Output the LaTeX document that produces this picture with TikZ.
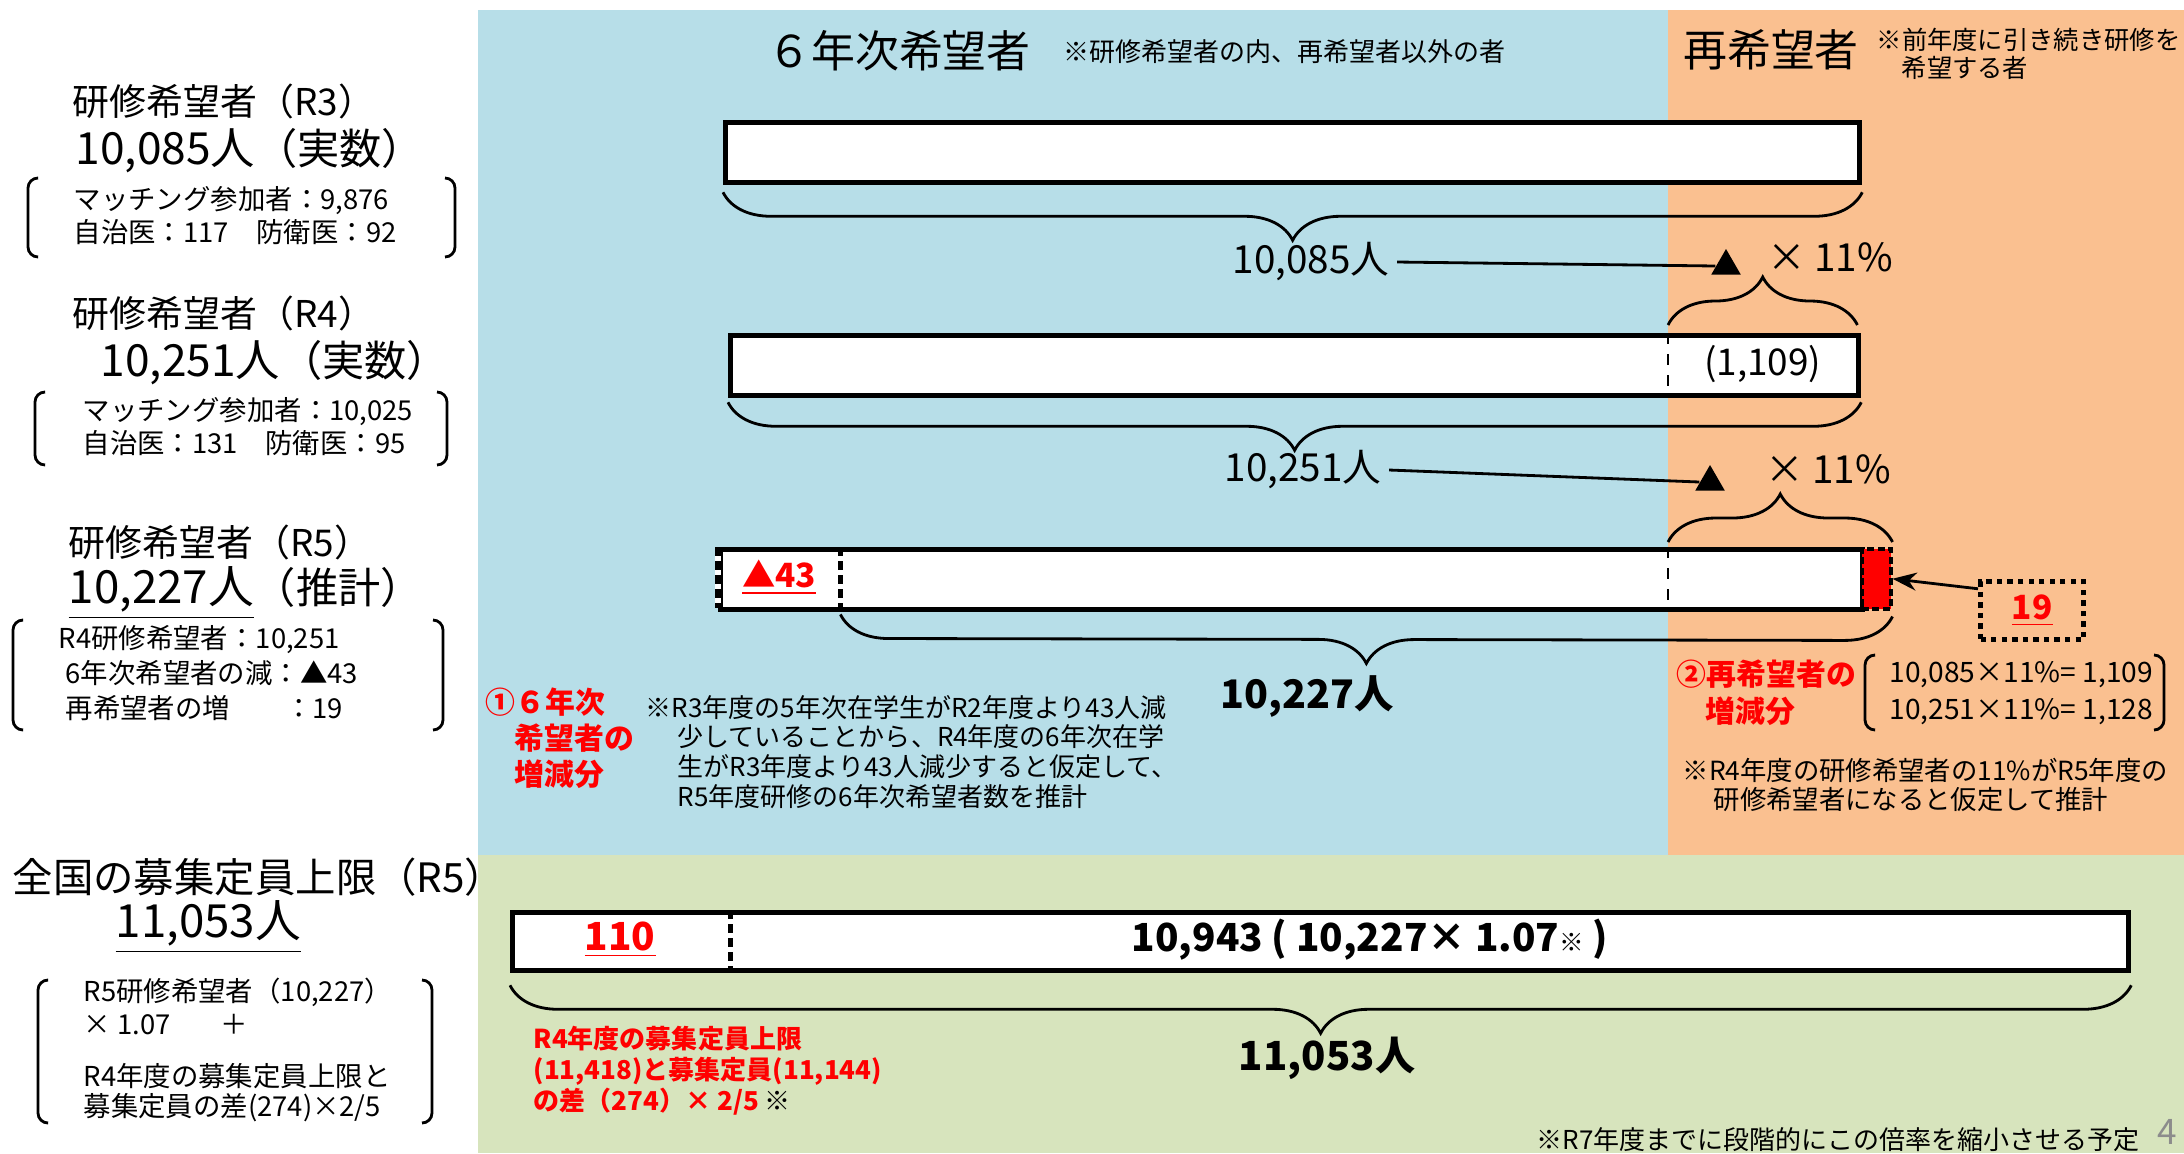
\documentclass[tikz,border=0pt]{standalone}
\usepackage{fontspec}
\setmainfont{Noto Sans CJK JP}
\usetikzlibrary{positioning,shapes.geometric,decorations.pathreplacing,arrows.meta}

\definecolor{sixbg}{HTML}{B7DEE8}
\definecolor{rebg}{HTML}{FAC090}
\definecolor{capbg}{HTML}{D7E4BD}
\definecolor{memo}{HTML}{FF0000}
\definecolor{pagegray}{HTML}{8C8C8C}

\newcommand\fsz[2]{\fontsize{#1}{#2}\selectfont}
% round brackets round a block of text: x-left, x-right, y-top, y-bottom
\newcommand\parenpair[4]{%
  \draw[paren] (#1+10,#3) -- (#1,#3) -- (#1,#4) -- (#1+10,#4);
  \draw[paren] (#2-10,#3) -- (#2,#3) -- (#2,#4) -- (#2-10,#4);}

\begin{document}
\begin{tikzpicture}[x=0.1mm, y=-0.1mm, inner sep=0pt,
    bar/.style={draw, line width=1.5pt, fill=white, minimum height=6mm, anchor=north west},
    slot/.style={minimum height=6mm, anchor=north west},
    gapline/.style={line width=1.5pt, dash pattern=on 2.5pt off 1.5pt},
    curly down/.style={decorate, decoration={brace, mirror, amplitude=4.8mm}, line width=0.8pt},
    curly up/.style={decorate, decoration={brace, amplitude=4.8mm}, line width=0.8pt},
    paren/.style={line width=0.8pt, rounded corners=1mm},
    uptri/.style={regular polygon, regular polygon sides=3, fill=black, minimum size=3.4mm},
    mid/.style={font=\fsz{11}{13}}]
\useasboundingbox (0,0) rectangle (2184,1153);

% backgrounds
\fill[sixbg] (478,10) rectangle (1668,855);
\fill[rebg] (1668,10) rectangle (2184,855);
\fill[capbg] (478,855) rectangle (2184,1153);

% headers
\node[font=\fsz{12.5}{14}] (hdr6) at (899,51) {６年次希望者};
\node[anchor=west, font=\fsz{7.4}{9}] (hdr6n) at (1063,52) {※研修希望者の内、再希望者以外の者};
\node[font=\fsz{12.5}{14}] (hdrre) at (1771,50) {再希望者};
\node[anchor=west, align=left, font=\fsz{7.2}{8}] (hdren) at (1876,54) {※前年度に引き続き研修を\\\hspace*{2.5mm}希望する者};

% left column
\node[anchor=west, font=\fsz{10.5}{12}] (ttl3) at (72,101) {研修希望者（R3）};
\node[anchor=west, font=\fsz{12.6}{14}] (num3) at (75,151) {10,085人{\fsz{12}{14}（実数）}};
\node[anchor=west, align=left, font=\fsz{7.8}{9.4}] (sub3) at (73,216) {マッチング参加者：9,876\\自治医：117　防衛医：92};
\parenpair{28}{455}{178}{257}

\node[anchor=west, font=\fsz{10.5}{12}] (ttl4) at (72,313) {研修希望者（R4）};
\node[anchor=west, font=\fsz{12.6}{14}] (num4) at (100,363) {10,251人{\fsz{12}{14}（実数）}};
\node[anchor=west, align=left, font=\fsz{7.8}{9.4}] (sub4) at (82,426.5) {マッチング参加者：10,025\\自治医：131　防衛医：95};
\parenpair{35}{447}{392}{465}

\node[anchor=west, font=\fsz{10.5}{12}] (ttl5) at (68,542) {研修希望者（R5）};
\node[anchor=west, font=\fsz{13}{15}] (num5) at (68,593) {\underline{10,227人}{\fsz{12}{14}（推計）}};
\node[anchor=west, align=left, font=\fsz{7.8}{10}] (sub5) at (58,673) {R4研修希望者：10,251\\\hspace*{0.7mm}6年次希望者の減：▲43\\\hspace*{0.7mm}再希望者の増　　：19};
\parenpair{13}{443}{620}{730}

\node[anchor=west, font=\fsz{11.5}{13}] (capt) at (12,877) {全国の募集定員上限（R5）};
\node[anchor=west, font=\fsz{13}{15}] (capn) at (115,927) {\underline{11,053人}};
\node[anchor=west, align=left, font=\fsz{7.8}{9.4}] (capa) at (83,1006.5) {R5研修希望者（10,227）\\× 1.07\hspace{5mm}＋};
\node[anchor=west, align=left, font=\fsz{7.8}{8.5}] (capb) at (83,1093) {R4年度の募集定員上限と\\募集定員の差(274)×2/5};
\parenpair{38}{432}{980}{1123}

% R3 bar
\node[bar, minimum width=113.4mm] (bar1) at (723,120) {};
\draw[curly down] ([yshift=-0.7mm]bar1.south west) -- ([yshift=-0.7mm]bar1.south east);
\node[mid] (sum085) at (1311,262) {10,085人};
\node[uptri] (tri1) at (1726,266) {};
\draw[line width=0.8pt] ([xshift=0.7mm]sum085.east) -- (tri1.west);
\node[mid] (pct1) at (1830,257) {× 11\%};

% R4 bar
\node[bar, minimum width=112.8mm] (bar2) at (728,333) {};
\node[slot, minimum width=18.8mm, font=\fsz{10.5}{12}] (rep2) at (1668,333) {(1,109)};
\draw[thin, dashed] (rep2.north west) -- (rep2.south west);
\draw[curly up] ([yshift=0.8mm]rep2.north west) -- ([yshift=0.8mm]rep2.north east);
\draw[curly down] ([yshift=-0.4mm]bar2.south west) -- ([yshift=-0.4mm]bar2.south east);
\node[mid] (sum251) at (1303,470) {10,251人};
\node[uptri] (tri2) at (1710,482) {};
\draw[line width=0.8pt] ([xshift=0.7mm]sum251.east) -- (tri2.west);
\node[mid] (pct2) at (1828,469) {× 11\%};

% R5 bar
\node[bar, minimum width=114.2mm] (bar3) at (718,547) {};
\node[slot, minimum width=12.1mm, font=\fsz{9.5}{11}\bfseries, text=memo] (dec43) at (718,547) {\underline{▲43}};
\draw[line width=1.6pt, white] (dec43.north west) -- (dec43.south west);
\draw[gapline] (dec43.north west) -- (dec43.south west);
\draw[gapline] (dec43.north east) -- (dec43.south east);
\node[slot, minimum width=19.2mm] (rep3) at (1668,547) {};
\draw[thin, dashed] (rep3.north west) -- (rep3.south west);
\node[slot, minimum width=2.9mm, fill=memo, draw, line width=1pt, dash pattern=on 2pt off 1pt] (redblk) at (1860,547) {};
\draw[curly up] ([yshift=0.5mm]rep3.north west) -- ([yshift=0.5mm]redblk.north east);
\draw[curly down] ([yshift=-0.6mm]dec43.south east) -- ([yshift=-0.6mm]redblk.south east);
\node[font=\fsz{11.2}{13}\bfseries] (tot227) at (1307,697) {10,227人};
\node[slot, draw, line width=1.5pt, dash pattern=on 1.5pt off 1.5pt, minimum width=10.3mm, minimum height=5.8mm, font=\fsz{9.5}{11}\bfseries, text=memo] (box19) at (1978,579) {\underline{19}};
\draw[-{Stealth[length=2.4mm, width=1.8mm]}, line width=0.8pt] (box19.158) -- (redblk.east);

% notes in the two columns
\node[anchor=west, align=left, text=memo, font=\fsz{8.5}{10.2}\bfseries] (why6) at (485,738) {①６年次\\\hspace*{2.9mm}希望者の\\\hspace*{2.9mm}増減分};
\node[anchor=west, align=left, font=\fsz{7.4}{8.5}] (note6) at (645,752) {※R3年度の5年次在学生がR2年度より43人減\\\hspace*{3.2mm}少していることから、R4年度の6年次在学\\\hspace*{3.2mm}生がR3年度より43人減少すると仮定して、\\\hspace*{3.2mm}R5年度研修の6年次希望者数を推計};
\node[anchor=west, align=left, text=memo, font=\fsz{8.5}{10.5}\bfseries] (whyre) at (1676,693) {②再希望者の\\\hspace*{2.9mm}増減分};
\node[anchor=west, align=left, font=\fsz{8}{10.5}] (calcre) at (1889,693.5) {10,085×11\%=\ 1,109\\10,251×11\%=\ 1,128};
\parenpair{1865}{2164}{655}{730}
\node[anchor=west, align=left, font=\fsz{7.5}{8.5}] (notere) at (1682,785) {※R4年度の研修希望者の11\%がR5年度の\\\hspace*{3.1mm}研修希望者になると仮定して推計};

% cap bar
\node[bar, minimum width=161.6mm, minimum height=5.8mm] (bar4) at (510,910) {};
\node[slot, minimum width=21.9mm, minimum height=5.8mm, font=\fsz{11}{13}\bfseries, text=memo] (cap110) at (510,910) {\underline{110}};
\draw[gapline] (cap110.north east) -- (cap110.south east);
\node[font=\fsz{11}{13}\bfseries] (calc4) at (1370,940) {10,943 ( 10,227× 1.07{\fsz{7}{8}\mdseries ※} )};
\draw[curly down] ([yshift=-1.2mm]bar4.south west) -- ([yshift=-1.2mm]bar4.south east);
\node[font=\fsz{11.4}{13}\bfseries] (tot053) at (1327,1058) {11,053人};
\node[anchor=west, align=left, text=memo, font=\fsz{7.4}{8.8}\bfseries] (capwhy) at (533,1071) {R4年度の募集定員上限\\(11,418)と募集定員(11,144)\\の差（274）× 2/5 {\color{black}※}};
\node[font=\fsz{7.4}{9}] (capnote) at (1838,1140) {※R7年度までに段階的にこの倍率を縮小させる予定};
\node[text=pagegray, font=\fsz{10}{12}] (pageno) at (2167,1132) {4};
\end{tikzpicture}
\end{document}
